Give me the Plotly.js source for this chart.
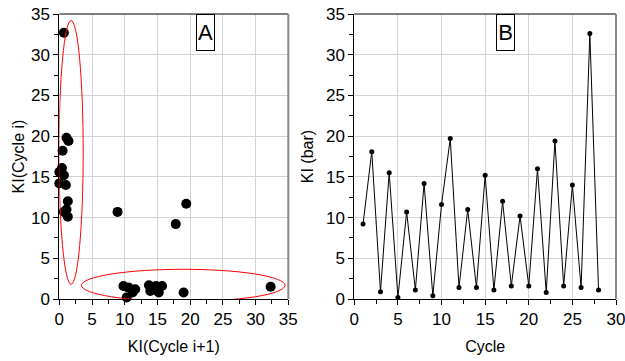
<!DOCTYPE html>
<html>
<head>
<meta charset="utf-8">
<script src="https://cdn.plot.ly/plotly-3.0.1.min.js"></script>
<style>html,body{margin:0;padding:0;background:#fff;}#chart{width:625px;height:361px;}</style>
</head>
<body>
<div id="chart"></div>
<script>
// Panel A: KI(Cycle i+1) vs KI(Cycle i)
const kiNext = [0.7, 1.1, 1.4, 0.5, 0.4, 0.0, 0.7, 0.0, 1.0, 1.3, 1.1, 0.7, 1.3, 8.9, 19.4, 17.8, 9.8, 10.6, 10.3, 11.2, 11.6, 13.7, 13.9, 14.8, 15.2, 15.7, 19.0, 32.3];
const kiCur  = [32.7, 19.8, 19.4, 18.2, 16.1, 15.6, 15.2, 14.2, 14.0, 12.0, 11.0, 10.7, 10.1, 10.7, 11.7, 9.2, 1.6, 1.4, 0.2, 0.8, 1.2, 1.7, 1.0, 1.6, 0.8, 1.6, 0.8, 1.5];
// Panel B: KI per cycle
const cycles = [1,2,3,4,5,6,7,8,9,10,11,12,13,14,15,16,17,18,19,20,21,22,23,24,25,26,27,28];
const kiBar  = [9.2, 18.1, 0.9, 15.5, 0.2, 10.7, 1.1, 14.2, 0.4, 11.6, 19.7, 1.4, 11.0, 1.4, 15.2, 1.1, 12.0, 1.6, 10.2, 1.6, 16.0, 0.8, 19.4, 1.6, 14.0, 1.4, 32.6, 1.1];
const tickValsA = [0,5,10,15,20,25,30,35];
const tickValsB = [0,5,10,15,20,25,30];
const panelLabels = ['A','B'];

const FONT = '"Liberation Sans", Arial, sans-serif';

const traces = [
  {x: kiNext, y: kiCur, xaxis:'x', yaxis:'y', type:'scatter', mode:'markers',
   marker:{color:'#000', size:10}, showlegend:false, hoverinfo:'skip', cliponaxis:false},
  {x: cycles, y: kiBar, xaxis:'x2', yaxis:'y2', type:'scatter', mode:'lines+markers',
   line:{color:'#000', width:1}, marker:{color:'#000', size:5}, showlegend:false, hoverinfo:'skip'}
];

function axis(extra){
  return Object.assign({
    showline:true, linecolor:'#000', linewidth:1, mirror:false,
    showgrid:true, gridcolor:'#d3d3d3', gridwidth:1,
    ticks:'outside', ticklen:5, tickwidth:1, tickcolor:'#000',
    tickfont:{family:FONT, size:17, color:'#000'},
    ticklabeloverflow:'allow',
    zeroline:false, fixedrange:true,
    minor:{ticks:'outside', ticklen:4, tickwidth:1, tickcolor:'#000', dtick:2.5, showgrid:false}
  }, extra);
}

const TF = {family:FONT, size:16, color:'#000'};

const layout = {
  width:625, height:361,
  margin:{l:0, r:0, t:0, b:0},
  paper_bgcolor:'#fff', plot_bgcolor:'#fff',
  font:{family:FONT, color:'#000'},
  xaxis: axis({domain:[0.0949, 0.4613], range:[0,35], tickvals:tickValsA, anchor:'y',
    title:{text:'KI(Cycle i+1)', font:TF, standoff:12}}),
  yaxis: axis({domain:[0.1717, 0.9612], range:[0,35], tickvals:tickValsA, anchor:'x',
    title:{text:'KI(Cycle i)', font:TF, standoff:2}}),
  xaxis2: axis({domain:[0.5669, 0.9856], range:[0,30], tickvals:tickValsB, anchor:'y2',
    title:{text:'Cycle', font:TF, standoff:12}}),
  yaxis2: axis({domain:[0.1717, 0.9612], range:[0,35], tickvals:tickValsA, anchor:'x2',
    title:{text:'KI (bar)', font:TF, standoff:8}}),
  shapes:[
    {type:'line', xref:'x domain', yref:'y domain', x0:0, x1:1, y0:1, y1:1, line:{color:'#000', width:1}},
    {type:'line', xref:'x domain', yref:'y domain', x0:1, x1:1, y0:0, y1:1, line:{color:'#888', width:2}},
    {type:'line', xref:'x2 domain', yref:'y2 domain', x0:0, x1:1, y0:1, y1:1, line:{color:'#000', width:1}},
    {type:'line', xref:'x2 domain', yref:'y2 domain', x0:1, x1:1, y0:0, y1:1, line:{color:'#888', width:2}},
    {type:'circle', xref:'x', yref:'y', x0:-0.05, x1:3.65, y0:1.8, y1:34.2, line:{color:'#ff0000', width:1}},
    {type:'circle', xref:'x', yref:'y', x0:3.4, x1:34.5, y0:-0.3, y1:3.65, line:{color:'#ff0000', width:1}}
  ],
  annotations:[
    {text:panelLabels[0], xref:'x', yref:'y', x:22.4, y:32.7, showarrow:false,
     font:{family:'"Liberation Sans Narrow", "Liberation Sans", Arial', size:22, color:'#000'},
     bordercolor:'#000', borderwidth:1, borderpad:1, width:15, height:33, bgcolor:'#fff'},
    {text:panelLabels[1], xref:'x2', yref:'y2', x:17.3, y:32.7, showarrow:false,
     font:{family:'"Liberation Sans Narrow", "Liberation Sans", Arial', size:22, color:'#000'},
     bordercolor:'#000', borderwidth:1, borderpad:1, width:15, height:33, bgcolor:'#fff'}
  ]
};

Plotly.newPlot('chart', traces, layout, {staticPlot:true, displayModeBar:false});
</script>
</body>
</html>
